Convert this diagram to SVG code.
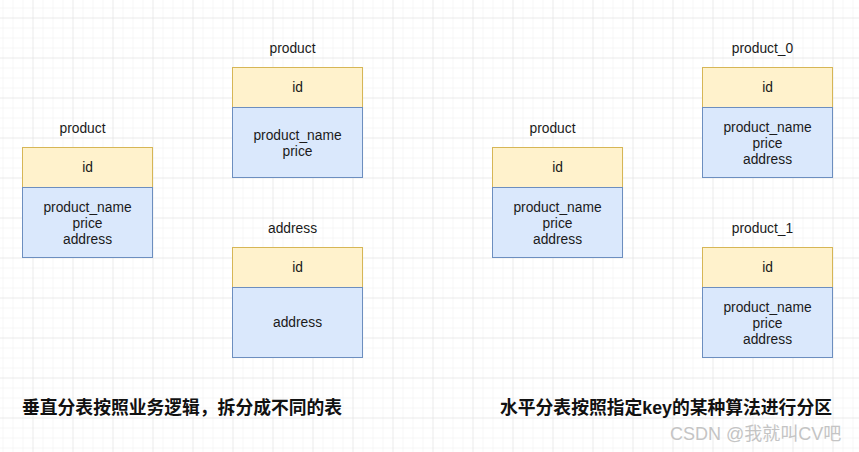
<svg xmlns="http://www.w3.org/2000/svg" width="859" height="452" viewBox="0 0 859 452">
<style>
.hd{fill:#fff2cc;stroke:#d6b656;stroke-width:1}
.bd{fill:#dae8fc;stroke:#6c8ebf;stroke-width:1}
.t{font-family:"Liberation Sans",Arial,sans-serif;font-size:13.8px;fill:#1a1a1a;text-anchor:middle}
.cap{font-family:"Liberation Sans","Noto Sans CJK SC",sans-serif;font-size:17.8px;font-weight:bold;fill:#111}
.wm{font-family:"Liberation Sans","Noto Sans CJK SC",sans-serif;font-size:18px;fill:#c4c4c4}
</style>
<defs>
<pattern id="minor" patternUnits="userSpaceOnUse" x="2.5" y="7.5" width="10" height="10">
<path d="M0 0H10M0 0V10" fill="none" stroke="#f0f0f0" stroke-width="1"/>
</pattern>
<pattern id="major" patternUnits="userSpaceOnUse" x="32.5" y="17.5" width="40" height="40">
<path d="M0 0H40M0 0V40" fill="none" stroke="#e2e2e2" stroke-width="1"/>
</pattern>
</defs>
<rect width="859" height="452" fill="#ffffff"/>
<rect width="859" height="452" fill="url(#minor)"/>
<rect width="859" height="452" fill="url(#major)"/>

<g id="connectors"></g>

<g id="product-left">
<text class="t" x="82.5" y="133">product</text>
<rect class="hd" x="22.5" y="147.5" width="130" height="40"/>
<text class="t" x="87.5" y="172">id</text>
<rect class="bd" x="22.5" y="187.5" width="130" height="70"/>
<text class="t" x="87.5" y="212">product_name</text>
<text class="t" x="87.5" y="228">price</text>
<text class="t" x="87.5" y="244">address</text>
</g>

<g id="product-vertical">
<text class="t" x="292.5" y="53">product</text>
<rect class="hd" x="232.5" y="67.5" width="130" height="40"/>
<text class="t" x="297.5" y="92">id</text>
<rect class="bd" x="232.5" y="107.5" width="130" height="70"/>
<text class="t" x="297.5" y="140">product_name</text>
<text class="t" x="297.5" y="156">price</text>
</g>

<g id="address-vertical">
<text class="t" x="292.5" y="233">address</text>
<rect class="hd" x="232.5" y="247.5" width="130" height="40"/>
<text class="t" x="297.5" y="272">id</text>
<rect class="bd" x="232.5" y="287.5" width="130" height="70"/>
<text class="t" x="297.5" y="327">address</text>
</g>

<g id="product-right">
<text class="t" x="552.5" y="133">product</text>
<rect class="hd" x="492.5" y="147.5" width="130" height="40"/>
<text class="t" x="557.5" y="172">id</text>
<rect class="bd" x="492.5" y="187.5" width="130" height="70"/>
<text class="t" x="557.5" y="212">product_name</text>
<text class="t" x="557.5" y="228">price</text>
<text class="t" x="557.5" y="244">address</text>
</g>

<g id="product_0">
<text class="t" x="762.5" y="53">product_0</text>
<rect class="hd" x="702.5" y="67.5" width="130" height="40"/>
<text class="t" x="767.5" y="92">id</text>
<rect class="bd" x="702.5" y="107.5" width="130" height="70"/>
<text class="t" x="767.5" y="132">product_name</text>
<text class="t" x="767.5" y="148">price</text>
<text class="t" x="767.5" y="164">address</text>
</g>

<g id="product_1">
<text class="t" x="762.5" y="233">product_1</text>
<rect class="hd" x="702.5" y="247.5" width="130" height="40"/>
<text class="t" x="767.5" y="272">id</text>
<rect class="bd" x="702.5" y="287.5" width="130" height="70"/>
<text class="t" x="767.5" y="312">product_name</text>
<text class="t" x="767.5" y="328">price</text>
<text class="t" x="767.5" y="344">address</text>
</g>

<text class="cap" x="22" y="414">垂直分表按照业务逻辑，拆分成不同的表</text>
<text class="cap" x="500" y="414">水平分表按照指定key的某种算法进行分区</text>
<text class="wm" x="670" y="440">CSDN @我就叫CV吧</text>
</svg>
